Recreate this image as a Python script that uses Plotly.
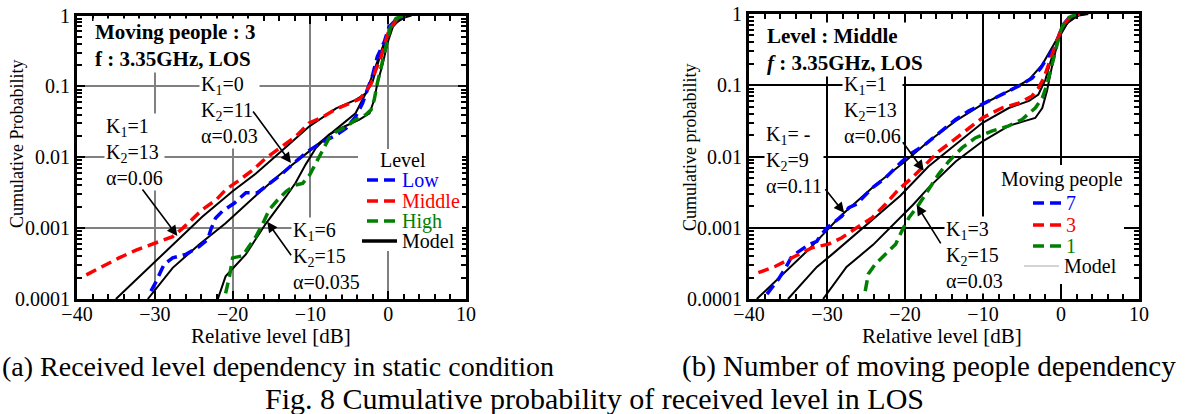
import plotly.graph_objects as go

# ---------------- data ----------------
# (a) Received level dependency, static condition (moving people = 3)
a_low_x = [-30.5, -29.9, -28.8, -27.7, -26.0, -24.3, -23.2, -22.8, -22.2, -21.3, -19.8, -18.3, -16.8, -15.3,
           -13.6, -11.9, -10.1, -8.4, -6.7, -5.4, -4.2, -3.3, -2.7, -2.0, -1.4, -0.5, 0.1, 1.2, 2.2]
a_low_p = [1.29e-4, 1.70e-4, 3.09e-4, 3.80e-4, 4.27e-4, 5.50e-4, 6.92e-4, 9.55e-4, 1.38e-3, 1.74e-3, 2.24e-3,
           3.16e-3, 3.16e-3, 4.27e-3, 5.89e-3, 8.71e-3, 0.0126, 0.0166, 0.0204, 0.0257, 0.0372, 0.0575, 0.0891,
           0.145, 0.263, 0.427, 0.692, 0.912, 1.0]

a_mid_x = [-38.8, -36.7, -34.6, -32.4, -29.9, -27.7, -26.4, -25.1, -23.9, -22.1, -20.9, -19.1, -17.4, -15.7,
           -14.0, -11.9, -10.2, -8.4, -6.7, -5.0, -3.7, -2.9, -2.2, -1.6, -0.9, -0.4, 0.1, 1.2, 2.2]
a_mid_p = [2.19e-4, 2.88e-4, 3.80e-4, 4.90e-4, 6.17e-4, 7.59e-4, 1.0e-3, 1.38e-3, 1.82e-3, 2.51e-3, 3.47e-3,
           4.79e-3, 6.61e-3, 9.77e-3, 0.0135, 0.0195, 0.0302, 0.0372, 0.0479, 0.0575, 0.0661, 0.0832, 0.110,
           0.170, 0.263, 0.407, 0.617, 0.912, 1.0]

a_high_x = [-20.9, -20.4, -20.0, -18.7, -17.9, -17.0, -16.1, -15.3, -14.2, -13.1, -11.9, -11.0, -10.1, -9.3,
            -8.4, -7.6, -6.7, -5.4, -4.2, -2.9, -2.2, -1.8, -1.4, -0.9, -0.5, -0.1, 0.3, 1.0, 2.0]
a_high_p = [1.20e-4, 2.09e-4, 3.80e-4, 4.07e-4, 5.50e-4, 7.59e-4, 1.17e-3, 1.82e-3, 2.51e-3, 3.31e-3, 4.07e-3,
            4.27e-3, 5.62e-3, 8.32e-3, 0.0126, 0.0186, 0.0229, 0.0269, 0.0339, 0.0398, 0.0468, 0.0646, 0.110,
            0.191, 0.324, 0.479, 0.692, 0.912, 1.0]

# models (K1=1,K2=13,a=0.06), (K1=0,K2=11,a=0.03), (K1=6,K2=15,a=0.035)
a_mod_mid_x = [-35.0, -30.1, -26.9, -23.9, -20.0, -17.0, -13.6, -10.2, -6.7, -4.2, -2.9, -2.0, -1.2, -0.3, 0.6, 1.8, 2.7]
a_mod_mid_p = [1.0e-4, 3.24e-4, 6.92e-4, 1.45e-3, 3.31e-3, 5.89e-3, 0.0126, 0.0269, 0.0490, 0.0646, 0.0794,
               0.117, 0.234, 0.447, 0.724, 0.933, 1.0]
a_mod_low_x = [-30.9, -27.7, -24.3, -20.9, -17.0, -14.0, -11.0, -8.4, -5.9, -4.2, -2.9, -2.0, -1.2, -0.3, 0.8, 2.3, 3.0]
a_mod_low_p = [1.0e-4, 2.75e-4, 5.89e-4, 1.17e-3, 2.88e-3, 5.62e-3, 0.0102, 0.0174, 0.0288, 0.0417, 0.0794,
               0.145, 0.263, 0.479, 0.776, 0.955, 1.0]
a_mod_high_x = [-21.9, -20.9, -18.3, -15.7, -13.1, -11.9, -10.6, -9.3, -7.6, -5.9, -3.7, -2.4, -1.8, -1.4, -0.7,
                -0.1, 0.6, 1.8, 2.8]
a_mod_high_p = [1.0e-4, 2.09e-4, 4.27e-4, 1.17e-3, 2.82e-3, 4.37e-3, 7.94e-3, 0.0135, 0.0209, 0.0263, 0.0339,
                0.0417, 0.0646, 0.110, 0.209, 0.407, 0.692, 0.955, 1.0]

# (b) Number of moving people dependency (level = Middle)
b_7_x = [-37.7, -36.2, -35.3, -34.5, -32.4, -31.3, -30.9, -30.0, -28.1, -27.2, -26.2, -24.2, -22.5, -20.4, -19.1,
         -17.4, -15.3, -13.5, -11.8, -10.1, -7.6, -5.4, -3.7, -2.6, -1.8, -0.9, -0.3, 0.3, 1.2, 2.2]
b_7_p = [1.17e-4, 1.91e-4, 2.75e-4, 3.98e-4, 5.75e-4, 6.46e-4, 7.59e-4, 1.0e-3, 1.45e-3, 1.91e-3, 2.14e-3,
         3.63e-3, 5.01e-3, 8.51e-3, 0.0112, 0.0148, 0.0229, 0.0331, 0.0437, 0.0537, 0.0741, 0.0977, 0.126,
         0.174, 0.240, 0.331, 0.490, 0.708, 0.933, 1.0]

b_3_x = [-38.8, -36.6, -34.1, -31.9, -29.8, -28.1, -25.9, -24.2, -22.5, -20.8, -19.1, -17.4, -15.7, -14.0,
         -11.8, -10.1, -7.6, -5.4, -3.7, -2.9, -2.2, -1.6, -0.9, -0.3, 0.3, 1.4, 2.4]
b_3_p = [2.34e-4, 2.88e-4, 3.98e-4, 5.25e-4, 5.89e-4, 7.24e-4, 1.05e-3, 1.38e-3, 2.14e-3, 3.47e-3, 5.01e-3,
         7.76e-3, 0.0117, 0.0162, 0.0251, 0.0347, 0.0479, 0.0562, 0.0708, 0.0912, 0.126, 0.195, 0.316, 0.490,
         0.708, 0.955, 1.0]

b_1_x = [-25.1, -24.7, -23.8, -22.5, -21.2, -20.2, -19.5, -18.2, -17.0, -15.7, -14.4, -12.7, -11.0, -8.8,
         -6.7, -5.0, -3.3, -2.4, -1.8, -1.2, -0.5, 0.0, 0.8, 2.0]
b_1_p = [1.29e-4, 2.24e-4, 3.09e-4, 4.27e-4, 5.89e-4, 1.0e-3, 1.38e-3, 2.14e-3, 3.47e-3, 5.62e-3, 8.51e-3,
         0.0132, 0.0182, 0.0229, 0.0269, 0.0331, 0.0479, 0.0661, 0.102, 0.195, 0.372, 0.603, 0.871, 1.0]

# models (K1=-,K2=9,a=0.11), (K1=1,K2=13,a=0.06), (K1=3,K2=15,a=0.03)
b_mod_7_x = [-39.0, -35.6, -32.2, -28.3, -26.2, -23.8, -20.0, -17.0, -13.5, -10.1, -6.7, -4.1, -2.4, -1.2, -0.1,
             1.0, 2.3, 3.5]
b_mod_7_p = [1.0e-4, 2.29e-4, 5.13e-4, 1.45e-3, 2.34e-3, 3.98e-3, 8.51e-3, 0.0162, 0.0316, 0.0537, 0.0832,
             0.120, 0.195, 0.331, 0.537, 0.794, 0.955, 1.0]
b_mod_3_x = [-35.0, -31.3, -29.2, -26.2, -23.2, -20.6, -17.0, -13.5, -10.1, -6.7, -4.1, -2.9, -2.0, -1.2, -0.3,
             0.8, 2.3, 3.2]
b_mod_3_p = [1.0e-4, 2.82e-4, 4.37e-4, 8.32e-4, 1.58e-3, 2.82e-3, 7.24e-3, 0.0148, 0.0295, 0.0479, 0.0603,
             0.0741, 0.120, 0.240, 0.457, 0.741, 0.977, 1.0]
b_mod_1_x = [-30.5, -27.5, -24.1, -21.5, -19.0, -17.0, -13.5, -10.1, -6.7, -4.6, -3.3, -2.4, -1.8, -1.2, -0.5,
             0.1, 1.2, 2.3, 3.0]
b_mod_1_p = [1.0e-4, 2.82e-4, 5.75e-4, 1.10e-3, 2.09e-3, 3.63e-3, 8.51e-3, 0.0162, 0.0269, 0.0316, 0.0347,
             0.0479, 0.0832, 0.174, 0.372, 0.631, 0.871, 0.977, 1.0]

y_tickvals = [1e-4, 1e-3, 1e-2, 1e-1, 1]
y_ticktext = ["0.0001", "0.001", "0.01", "0.1", "1"]
y_minor = [k * 10.0 ** e for e in range(-4, 0) for k in range(2, 10)]

a_legend_names = ["Low", "Middle", "High", "Model"]
b_legend_names = ["7", "3", "1", "Model"]

BLUE, RED, GREEN = "#0000ff", "#ff0000", "#008000"
FONT = "Liberation Serif, Times New Roman, serif"
W, H = 1185, 414


def px(x):
    return x / W


def py(y):
    return 1 - y / H


fig = go.Figure()
DASH = "11px,6px"

# models first (under the dashed measurements)
for xs, ps in [(a_mod_mid_x, a_mod_mid_p), (a_mod_low_x, a_mod_low_p), (a_mod_high_x, a_mod_high_p)]:
    fig.add_trace(go.Scatter(x=xs, y=ps, mode="lines", line=dict(color="black", width=2),
                             xaxis="x", yaxis="y", showlegend=False, name="Model"))
for xs, ps, c, n in [(a_low_x, a_low_p, BLUE, "Low"), (a_mid_x, a_mid_p, RED, "Middle"),
                     (a_high_x, a_high_p, GREEN, "High")]:
    fig.add_trace(go.Scatter(x=xs, y=ps, mode="lines", line=dict(color=c, width=3.5, dash=DASH),
                             name=n, xaxis="x", yaxis="y", showlegend=False))

for xs, ps in [(b_mod_7_x, b_mod_7_p), (b_mod_3_x, b_mod_3_p), (b_mod_1_x, b_mod_1_p)]:
    fig.add_trace(go.Scatter(x=xs, y=ps, mode="lines", line=dict(color="black", width=2),
                             xaxis="x2", yaxis="y2", showlegend=False, name="Model"))
for xs, ps, c, n in [(b_7_x, b_7_p, BLUE, "7"), (b_3_x, b_3_p, RED, "3"), (b_1_x, b_1_p, GREEN, "1")]:
    fig.add_trace(go.Scatter(x=xs, y=ps, mode="lines", line=dict(color=c, width=3.5, dash=DASH),
                             name=n, xaxis="x2", yaxis="y2", showlegend=False))


def xaxis(domain, gridcolor, anchor):
    return dict(domain=domain, anchor=anchor, range=[-40, 10], dtick=10, tick0=0,
                ticks="inside", ticklen=8, tickwidth=2, tickcolor="black",
                minor=dict(dtick=2, ticks="inside", ticklen=5, tickwidth=1.5, tickcolor="black", showgrid=False),
                showline=True, linewidth=3, linecolor="black", mirror="ticks",
                showgrid=True, gridcolor=gridcolor, gridwidth=2, zeroline=False,
                ticklabelstandoff=-5,
                tickfont=dict(family=FONT, size=20, color="black"), automargin=False)


def yaxis(domain, gridcolor, anchor):
    return dict(domain=domain, anchor=anchor, type="log", range=[-4, 0],
                tickmode="array", tickvals=y_tickvals, ticktext=y_ticktext,
                ticks="inside", ticklen=8, tickwidth=2, tickcolor="black",
                minor=dict(tickmode="array", tickvals=y_minor, ticks="inside", ticklen=5, tickwidth=1.5,
                           tickcolor="black", showgrid=False),
                showline=True, linewidth=3, linecolor="black", mirror="ticks",
                showgrid=True, gridcolor=gridcolor, gridwidth=2, zeroline=False,
                tickfont=dict(family=FONT, size=20, color="black"), automargin=False)


ann = []
shapes = []


def block(text, x, y, xr, yr, size=20):
    ann.append(dict(text=text, x=x, y=y, xref=xr, yref=yr, xanchor="left", yanchor="middle", align="left",
                    showarrow=False, font=dict(family=FONT, size=size, color="black"),
                    bgcolor="white", borderpad=1))


def arrow(x, y, ax, ay, xr, yr):
    ann.append(dict(text="", x=x, y=y, xref=xr, yref=yr, ax=ax, ay=ay, showarrow=True, arrowhead=2,
                    arrowsize=1.3, arrowwidth=1.6, arrowcolor="black"))


def ptext(text, x, y, xanchor="center", size=20, color="black", angle=0):
    ann.append(dict(text=text, x=px(x), y=py(y), xref="paper", yref="paper", xanchor=xanchor,
                    yanchor="middle", showarrow=False, textangle=angle,
                    font=dict(family=FONT, size=size, color=color)))


# left panel annotations
block("<b>Moving people : 3</b><br><b>f : 3.35GHz, LOS</b>", -38.0, -0.42, "x", "y", 21)
block("K<sub>1</sub>=0<br>K<sub>2</sub>=11<br>α=0.03", -24.3, -1.33, "x", "y")
block("K<sub>1</sub>=1<br>K<sub>2</sub>=13<br>α=0.06", -36.5, -1.92, "x", "y")
block("K<sub>1</sub>=6<br>K<sub>2</sub>=15<br>α=0.035", -12.5, -3.40, "x", "y")
arrow(-12.5, -2.08, -39, -53, "x", "y")
arrow(-27.1, -3.11, -36, -48, "x", "y")
arrow(-15.55, -2.91, 25, 35, "x", "y")

# right panel annotations
block("<b>Level : Middle</b><br><b><i>f</i> : 3.35GHz, LOS</b>", -37.9, -0.50, "x2", "y2", 21)
block("K<sub>1</sub>=1<br>K<sub>2</sub>=13<br>α=0.06", -28.1, -1.35, "x2", "y2")
block("K<sub>1</sub>= -<br>K<sub>2</sub>=9<br>α=0.11", -38.1, -2.05, "x2", "y2")
block("K<sub>1</sub>=3<br>K<sub>2</sub>=15<br>α=0.03", -15.0, -3.38, "x2", "y2")
arrow(-17.6, -2.20, -22, -30, "x2", "y2")
arrow(-27.8, -2.79, -20, -25, "x2", "y2")
arrow(-18.5, -2.68, 25, 40, "x2", "y2")

# legends (box, title, samples, labels)
shapes.append(dict(type="rect", xref="paper", yref="paper", x0=px(358), x1=px(462), y0=py(251), y1=py(149),
                   fillcolor="white", line=dict(width=0), layer="above"))
ptext("Level", 403, 160)
for n, c, yy in zip(a_legend_names, [BLUE, RED, GREEN, "black"], [180, 201, 221, 241]):
    if n == "Model":
        shapes.append(dict(type="line", xref="paper", yref="paper", x0=px(362), x1=px(397), y0=py(yy), y1=py(yy),
                           line=dict(color="black", width=3.5), layer="above"))
    else:
        shapes.append(dict(type="line", xref="paper", yref="paper", x0=px(367), x1=px(396), y0=py(yy), y1=py(yy),
                           line=dict(color=c, width=3.5, dash="11px,6px"), layer="above"))
    ptext(n, 400, yy, xanchor="left", color=c)

shapes.append(dict(type="rect", xref="paper", yref="paper", x0=px(1002), x1=px(1124), y0=py(284), y1=py(165),
                   fillcolor="white", line=dict(width=0), layer="above"))
ptext("Moving people", 1062, 180)
for n, c, yy in zip(b_legend_names, [BLUE, RED, GREEN, "black"], [203, 225, 246, 266]):
    if n == "Model":
        shapes.append(dict(type="line", xref="paper", yref="paper", x0=px(1024), x1=px(1059), y0=py(yy), y1=py(yy),
                           line=dict(color="#aaaaaa", width=1), layer="above"))
        ptext(n, 1062, yy, xanchor="left", color=c)
    else:
        shapes.append(dict(type="line", xref="paper", yref="paper", x0=px(1033), x1=px(1061), y0=py(yy), y1=py(yy),
                           line=dict(color=c, width=3.5, dash="11px,6px"), layer="above"))
        ptext(n, 1064, yy, xanchor="left", color=c)

# axis titles
ptext("Cumulative Probability", 17, 144, size=18, angle=-90)
ptext("Cumulative probability", 690, 148, size=18, angle=-90)
ptext("Relative level [dB]", 271, 336, size=21)
ptext("Relative level [dB]", 942, 336, size=21)

# captions
ptext("(a) Received level dependency in static condition", 0, 366, xanchor="left", size=28)
ptext("(b) Number of moving people dependency", 1178, 366, xanchor="right", size=29)
ptext("Fig. 8 Cumulative probability of received level in LOS", 594, 398, size=30)

fig.update_layout(
    width=W, height=H, margin=dict(l=0, r=0, t=0, b=0),
    paper_bgcolor="white", plot_bgcolor="white",
    xaxis=xaxis([px(77), px(466)], "#808080", "y"),
    yaxis=yaxis([py(299), py(15.5)], "#808080", "x"),
    xaxis2=xaxis([px(749), px(1139)], "black", "y2"),
    yaxis2=yaxis([py(299), py(14)], "black", "x2"),
    annotations=ann,
    shapes=shapes,
    showlegend=False,
)

fig.write_html("out.html", config={"displayModeBar": False},
               post_script="document.body.style.margin='0px';")
